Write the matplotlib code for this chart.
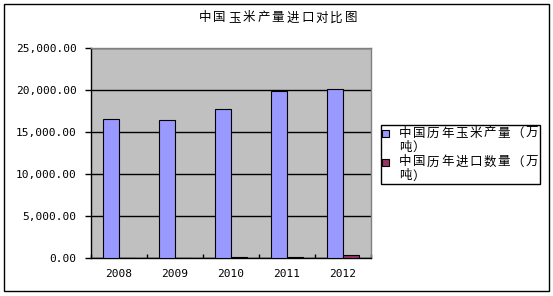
import matplotlib
matplotlib.use("Agg")
import matplotlib.pyplot as plt
from matplotlib.patches import Rectangle
import numpy as np

plt.rcParams['font.family'] = ['Noto Sans CJK SC', 'DejaVu Sans']

years = ['2008', '2009', '2010', '2011', '2012']
production = [16520, 16400, 17700, 19850, 20080]
imports = [5, 8, 157, 175, 350]
series_names = ['中国历年玉米产量（万\n吨）', '中国历年进口数量（万\n吨）']
title = '中国玉米产量进口对比图'
yticks = [0, 5000, 10000, 15000, 20000, 25000]

W, H = 553, 296
fig = plt.figure(figsize=(W / 100, H / 100), dpi=100)

def fx(px):
    return px / W

def fy(py):
    return 1 - py / H

def spaced_text(x_first_center, y, s, pitch, size):
    # draws a CJK string with wide character pitch (as in the reference font rendering)
    for i, ch in enumerate(s):
        fig.text(fx(x_first_center + i * pitch), fy(y), ch, ha='center', va='center', fontsize=size)

# outer border
fig.patches.append(Rectangle((fx(3.5), fy(290.5)), fx(545), (287) / H, transform=fig.transFigure,
                             fill=False, edgecolor='black', linewidth=1.0))

ax = fig.add_axes([fx(90.5), fy(258), fx(280), (258 - 48) / H])
ax.set_facecolor('#C0C0C0')

x = np.arange(len(years))
bw = 1 / 3.5
ax.bar(x - bw / 2, production, width=bw, color='#9999FF', edgecolor='black', linewidth=0.8, zorder=3)
ax.bar(x + bw / 2, imports, width=bw, color='#993366', edgecolor='black', linewidth=0.8, zorder=3)

ax.set_xlim(-0.5, len(years) - 0.5)
ax.set_ylim(0, 25000)
ax.set_yticks(yticks)
ax.set_yticklabels([f'{v:,.2f}' for v in yticks], family='DejaVu Sans Mono', fontsize=8)
ax.yaxis.grid(True, color='black', linewidth=1.0, zorder=1)
ax.set_axisbelow(True)
ax.tick_params(axis='y', direction='out', length=4, width=1, pad=6, color='black')

ax.set_xticks(x)
ax.set_xticklabels(years, family='DejaVu Sans Mono', fontsize=8)
ax.tick_params(axis='x', which='major', length=0, pad=8)
ax.set_xticks(np.arange(-0.5, len(years)), minor=True)
ax.tick_params(axis='x', which='minor', direction='in', length=3, width=1, color='black')

for s in ['top', 'right']:
    ax.spines[s].set_color('#808080')
    ax.spines[s].set_linewidth(1.0)
for s in ['left', 'bottom']:
    ax.spines[s].set_color('black')
    ax.spines[s].set_linewidth(1.0)

spaced_text(278 - 5 * 14.6, 18, title, 14.6, 9)

# legend
fig.patches.append(Rectangle((fx(380.5), fy(183.5)), fx(159.5), 59 / H, transform=fig.transFigure,
                             fill=False, edgecolor='black', linewidth=1.0))
colors = ['#9999FF', '#993366']
rows = [133, 162]
for name, c, ry in zip(series_names, colors, rows):
    fig.patches.append(Rectangle((fx(382), fy(ry + 3.5)), fx(7), 7 / H, transform=fig.transFigure,
                                 facecolor=c, edgecolor='black', linewidth=0.8))
    for i, line in enumerate(name.split('\n')):
        spaced_text(405, ry + i * 14, line, 14.1, 9)

fig.savefig('out.png', dpi=100)
